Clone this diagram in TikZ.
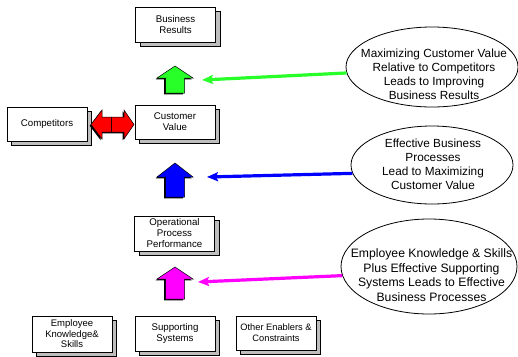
\documentclass[tikz,border=0pt]{standalone}
\usepackage{fontspec}
\setmainfont{Liberation Sans}
\usetikzlibrary{arrows.meta,shadows,shapes.geometric}

\definecolor{upgreen}{RGB}{40,255,40}
\definecolor{upblue}{RGB}{0,0,255}
\definecolor{upmagenta}{RGB}{255,0,255}
\definecolor{upred}{RGB}{255,0,0}
\definecolor{shadowgray}{RGB}{190,190,190}

\tikzset{
  box/.style={draw=black, line width=0.8pt, fill=white, rectangle,
    minimum width=80pt, minimum height=35pt, inner sep=0pt, align=center,
    font=\fontsize{9.7}{11}\selectfont,
    general shadow={fill=shadowgray, draw=black, line width=0.8pt,
      shadow xshift=4.5pt, shadow yshift=-4.5pt}},
  note/.style={draw=black, line width=0.8pt, ellipse, inner sep=0pt},
  notetext/.style={align=center, inner sep=0pt, font=\fontsize{11.8}{14}\selectfont},
  link/.style={line width=3.2pt, -{Stealth[length=11pt,width=9pt,inset=2pt]}},
}

% upward block arrow: centre x, tip y, head base y, bottom y, colour
\newcommand\upblock[5]{%
  \fill[black,shift={(-1.3,1.3)}] (#1,#2) -- ({#1+18},#3) -- ({#1+9.5},#3)
    -- ({#1+9.5},#4) -- ({#1-9.5},#4) -- ({#1-9.5},#3) -- ({#1-18},#3) -- cycle;
  \filldraw[fill=#5,draw=black,line width=0.5pt] (#1,#2) -- ({#1+18},#3) -- ({#1+9.5},#3)
    -- ({#1+9.5},#4) -- ({#1-9.5},#4) -- ({#1-9.5},#3) -- ({#1-18},#3) -- cycle;
}

\begin{document}
\begin{tikzpicture}[x=1pt,y=-1pt]
\useasboundingbox (0,0) rectangle (518,356);

% boxes
\node[box] (br)   at (175.5,24.5) {Business\\Results};
\node[box, minimum height=34pt] (cv)   at (175,122) {Customer\\Value};
\node[box, minimum height=34pt] (comp) at (47,124) {Competitors};
\node[box] (opp)  at (174.5,233.5) {Operational\\Process\\Performance};
\node[box, minimum height=36pt, font=\fontsize{9.5}{10.5}\selectfont] (ek) at (72,334) {Employee\\Knowledge\&\\Skills};
\node[box] (ss)   at (175,333.5) {Supporting\\Systems};
\node[box, minimum height=34pt, font=\fontsize{9.3}{11}\selectfont] (oe) at (276,333) {Other Enablers \&\\Constraints};

% vertical block arrows
\upblock{175}{66}{78}{93}{upgreen}
\upblock{175}{163}{177}{197}{upblue}
\upblock{175}{267}{279}{299}{upmagenta}

% double block arrow between competitors and customer value
\fill[black,shift={(-1.3,1.3)}] (91,124.5) -- (102,110) -- (102,117) -- (124,117)
  -- (124,110) -- (134,124.5) -- (124,139) -- (124,132) -- (102,132) -- (102,139) -- cycle;
\filldraw[fill=upred,draw=black,line width=0.5pt] (91,124.5) -- (102,110) -- (102,117)
  -- (111.5,117) -- (111.5,132) -- (102,132) -- (102,139) -- cycle;
\filldraw[fill=upred,draw=black,line width=0.5pt] (134,124.5) -- (124,110) -- (124,117)
  -- (111.5,117) -- (111.5,132) -- (124,132) -- (124,139) -- cycle;

% explanatory ellipses
\node[note, minimum width=172pt, minimum height=80pt] (e1) at (432,67) {};
\node[notetext] at (434,74.5) {Maximizing Customer Value\\Relative to Competitors\\Leads to Improving\\Business Results};
\node[note, minimum width=162pt, minimum height=78pt] (e2) at (432,165) {};
\node[notetext] at (433,164.5) {Effective Business\\Processes\\Lead to Maximizing\\Customer Value};
\node[note, minimum width=176pt, minimum height=95pt] (e3) at (429,266.5) {};
\node[notetext, font=\fontsize{12.2}{14.5}\selectfont] at (431.5,275) {Employee Knowledge \& Skills\\Plus Effective Supporting\\Systems Leads to Effective\\Business Processes};

% connectors from ellipses to block arrows
\coordinate (gtip) at (202,80);
\coordinate (btip) at (207,177);
\coordinate (mtip) at (198,282);
\draw[link, draw=upgreen] (e1.184) -- (gtip);
\draw[link, draw=upblue] (e2.186) -- (btip);
\draw[link, draw=upmagenta] (e3.186) -- (mtip);
\end{tikzpicture}
\end{document}
